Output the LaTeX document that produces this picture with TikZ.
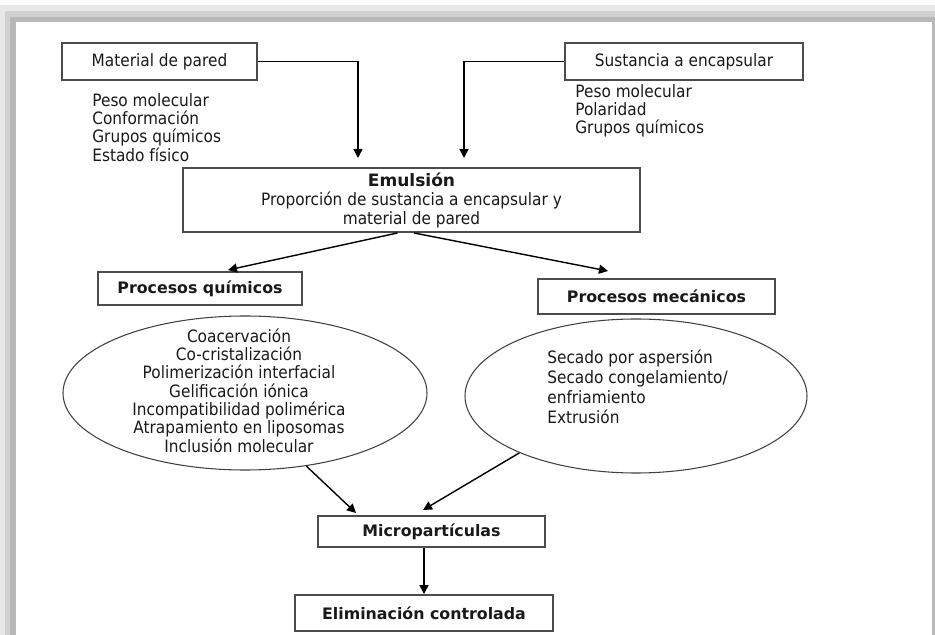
\documentclass[tikz,border=0pt]{standalone}
\usepackage{fontspec}
\setmainfont{DejaVu Sans}[FakeStretch=0.9]
\newfontfamily\headfont{DejaVu Sans}
\usepackage{tikz}
\usetikzlibrary{shapes.geometric, arrows.meta}

\begin{document}
\begin{tikzpicture}[x=0.2mm, y=-0.2mm,
    box/.style={rectangle, draw=black!70, line width=1.1pt, inner sep=0pt,
                align=center, text=black!90,
                font=\fontsize{9.7}{10.8}\selectfont},
    hbox/.style={box, font=\headfont\bfseries\fontsize{9}{10.4}\selectfont},
    oval/.style={ellipse, draw=black!75, line width=0.6pt, inner sep=0pt},
    txt/.style={align=left, inner sep=0pt, text=black!90,
                font=\fontsize{9.7}{10.4}\selectfont},
    arrow/.style={-{Triangle[length=1.8mm, width=1.8mm]}, line width=0.8pt}]
  \useasboundingbox (0,0) rectangle (935,635);
  % shadow of the frame
  \fill[black!9] (5,5) rectangle (935,11);
  \fill[black!18] (10,11) rectangle (935,17);
  \fill[black!28] (16,17) rectangle (935,22);
  \fill[black!9] (0,5) rectangle (5,635);
  \fill[black!18] (5,11) rectangle (10,635);
  \fill[black!28] (10,17) rectangle (16,635);
  \fill[black!28] (932,22) rectangle (935,635);
  % inputs
  \node[box, minimum width=39mm, minimum height=7.4mm] (mat) at (159.5,61.5) {Material de pared};
  \node[box, minimum width=47.6mm, minimum height=7.4mm] (sus) at (684,61.5) {Sustancia a encapsular};
  \node[txt, anchor=west] (matlist) at (92,127.5) {Peso molecular\\Conformación\\Grupos químicos\\Estado físico};
  \node[txt, anchor=west] (suslist) at (575,111) {Peso molecular\\Polaridad\\Grupos químicos};
  \node[box, minimum width=91.4mm, minimum height=12.8mm] (emu) at (411.5,200)
    {{\headfont\bfseries Emulsión}\\Proporción de sustancia a encapsular y\\material de pared};
  % processes
  \node[hbox, minimum width=40.8mm, minimum height=6.6mm] (pq) at (200,288.5) {Procesos químicos};
  \node[hbox, minimum width=47.4mm, minimum height=7mm] (pm) at (656.5,296.5) {Procesos mecánicos};
  \node[oval, minimum width=72.8mm, minimum height=30.8mm] (eq) at (245,393) {};
  \node[txt, align=center] (eqlist) at (239,390.5) {Coacervación\\Co-cristalización\\Polimerización interfacial\\Gelificación iónica\\Incompatibilidad polimérica\\Atrapamiento en liposomas\\Inclusión molecular};
  \node[oval, minimum width=68.4mm, minimum height=30.8mm] (em) at (636,396) {};
  \node[txt, anchor=west, font=\fontsize{9.7}{11.3}\selectfont] (emlist) at (547,387) {Secado por aspersión\\Secado congelamiento/\\enfriamiento\\Extrusión};
  % outputs
  \node[hbox, minimum width=45.4mm, minimum height=6.2mm] (mic) at (431.5,531.5) {Micropartículas};
  \node[hbox, minimum width=51.6mm, minimum height=7.2mm] (eli) at (424,613) {Eliminación controlada};
  \coordinate (in1) at (358,158);
  \coordinate (in2) at (464,158);
  \coordinate (pqtop) at (228,270);
  \coordinate (pmtop) at (608,271);
  \coordinate (mictip1) at (356,513);
  \coordinate (mictip2) at (423,510);
  \draw[arrow] (mat.east) -| (in1);
  \draw[arrow] (sus.west) -| (in2);
  \draw[arrow] ([xshift=-2.8mm]emu.south) -- (pqtop);
  \draw[arrow] ([xshift=0.5mm]emu.south) -- (pmtop);
  \draw[arrow] (eq.-50) -- (mictip1);
  \draw[arrow] (em.206) -- (mictip2);
  \draw[arrow] (eli.north |- mic.south) -- (eli.north);
\end{tikzpicture}
\end{document}
